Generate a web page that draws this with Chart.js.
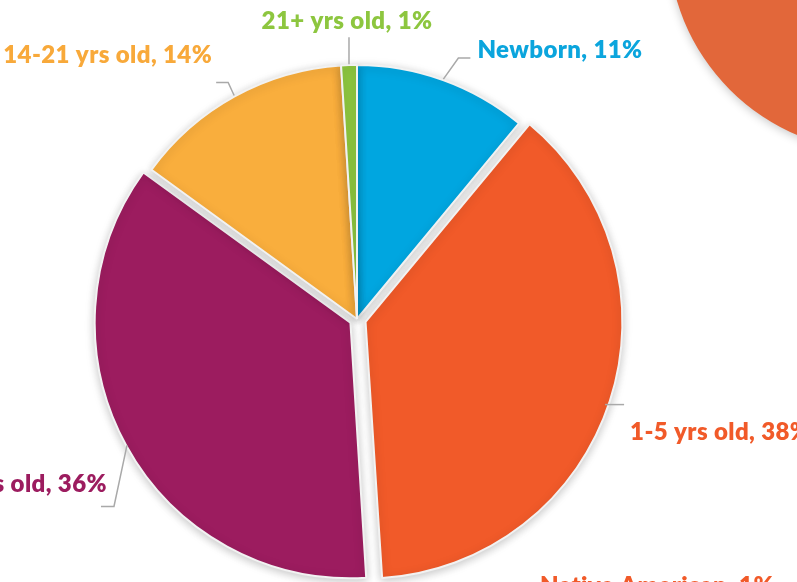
<!DOCTYPE html>
<html>
<head>
<meta charset="utf-8">
<script src="https://cdn.jsdelivr.net/npm/chart.js@4.4.1/dist/chart.umd.min.js"></script>
<style>
  html, body { margin: 0; padding: 0; background: #ffffff; width: 797px; height: 582px; overflow: hidden; }
  #wrap { position: relative; width: 797px; height: 582px; overflow: hidden; }
  #main { position: absolute; left: 0; top: 0; }
  #other { position: absolute; left: 640px; top: -300px; }
</style>
</head>
<body>
<div id="wrap">
  <canvas id="other" width="480" height="480"></canvas>
  <canvas id="main" width="797" height="582"></canvas>
</div>
<script>
// ---- data ----
const categories = ['Newborn', '1-5 yrs old', '6-13 yrs old', '14-21 yrs old', '21+ yrs old'];
const values = [11, 38, 36, 14, 1];
// neighbouring (cropped) chart
const otherCategories = ['Other'];
const otherValues = [100];
const otherLabelText = ['Native American, 1%'];

// ---- styles ----
const sliceColors = ['#00a6e0', '#f15a29', '#9c1c5f', '#f9ae3d', '#8dc63f'];
const textColors  = ['#0ba5dd', '#f15a29', '#9c1c5f', '#f8a93a', '#8dc63f'];
const sliceOffsets = [0, 36, 30, 0, 0];   // Chart.js translates by offset/4
const FONT = '800 24px Lato, "Open Sans", sans-serif';

// leader-line layout relative to each slice's outer mid-point
const leaderLayout = [
  { path: [[0,0],[15,-21],[27,-21]], text: [34,-29,'left'] },    // Newborn
  { path: [[-3,4],[16,4]],           text: [22,32,'left'] },     // 1-5
  { path: [[0,0],[-13,61],[-26,61]], text: [-20,39,'right'] },   // 6-13
  { path: [[0,0],[-6,-13],[-18,-13]],text: [-22,-40,'right'] },  // 14-21
  { path: [[0,0],[0,-27]],           text: [-2,-43,'center'] }   // 21+
];

const shadowPlugin = {
  id: 'softShadow',
  beforeDatasetsDraw(chart) {
    const ctx = chart.ctx;
    ctx.save();
    ctx.shadowColor = 'rgba(0,0,0,0.22)';
    ctx.shadowBlur = 10;
    ctx.shadowOffsetX = 0;
    ctx.shadowOffsetY = 2;
  },
  afterDatasetsDraw(chart) { chart.ctx.restore(); }
};

const labelPlugin = {
  id: 'leaderLabels',
  afterDraw(chart) {
    const ctx = chart.ctx;
    const meta = chart.getDatasetMeta(0);
    ctx.save();
    try { ctx.letterSpacing = '0.4px'; } catch (e) {}
    meta.data.forEach((arc, i) => {
      const p = arc.getProps(['x','y','startAngle','endAngle','outerRadius'], true);
      const mid = (p.startAngle + p.endAngle) / 2;
      const t = (sliceOffsets[i] || 0) / 4;
      const cx = p.x + Math.cos(mid) * t;
      const cy = p.y + Math.sin(mid) * t;
      const r = p.outerRadius + 1;
      const ax = cx + Math.cos(mid) * r;
      const ay = cy + Math.sin(mid) * r;
      const lay = leaderLayout[i];
      ctx.strokeStyle = '#a9a9a9';
      ctx.lineWidth = 1.5;
      ctx.beginPath();
      lay.path.forEach(([dx, dy], k) => {
        if (k === 0) ctx.moveTo(ax + dx, ay + dy); else ctx.lineTo(ax + dx, ay + dy);
      });
      ctx.stroke();
      ctx.font = FONT;
      ctx.fillStyle = textColors[i];
      ctx.textAlign = lay.text[2];
      ctx.textBaseline = 'middle';
      ctx.fillText(categories[i] + ', ' + values[i] + '%', ax + lay.text[0], ay + lay.text[1]);
    });
    // label of the neighbouring chart, cropped at the bottom edge
    ctx.font = FONT;
    ctx.fillStyle = '#f15a29';
    ctx.textAlign = 'left';
    ctx.textBaseline = 'alphabetic';
    ctx.fillText(otherLabelText[0], 540, 594);
    ctx.restore();
  }
};

function draw() {
  new Chart(document.getElementById('other'), {
    type: 'pie',
    data: {
      labels: otherCategories,
      datasets: [{ data: otherValues, backgroundColor: ['#e2673a'], borderWidth: 0, radius: 212, clip: false }]
    },
    options: {
      responsive: false, animation: false,
      layout: { padding: 0 },
      plugins: { legend: { display: false }, tooltip: { enabled: false } },
      events: []
    },
    plugins: [shadowPlugin]
  });

  new Chart(document.getElementById('main'), {
    type: 'pie',
    data: {
      labels: categories,
      datasets: [{
        data: values,
        backgroundColor: sliceColors,
        borderColor: '#f2f2f2',
        borderWidth: 2,
        offset: sliceOffsets,
        radius: 254,
        clip: false
      }]
    },
    options: {
      responsive: false, animation: false,
      layout: { padding: { left: 0, right: 83, top: 56, bottom: 0 } },
      plugins: { legend: { display: false }, tooltip: { enabled: false } },
      events: []
    },
    plugins: [shadowPlugin, labelPlugin]
  });
}

if (document.fonts && document.fonts.load) {
  document.fonts.load(FONT).then(draw, draw);
} else { draw(); }
</script>
</body>
</html>
